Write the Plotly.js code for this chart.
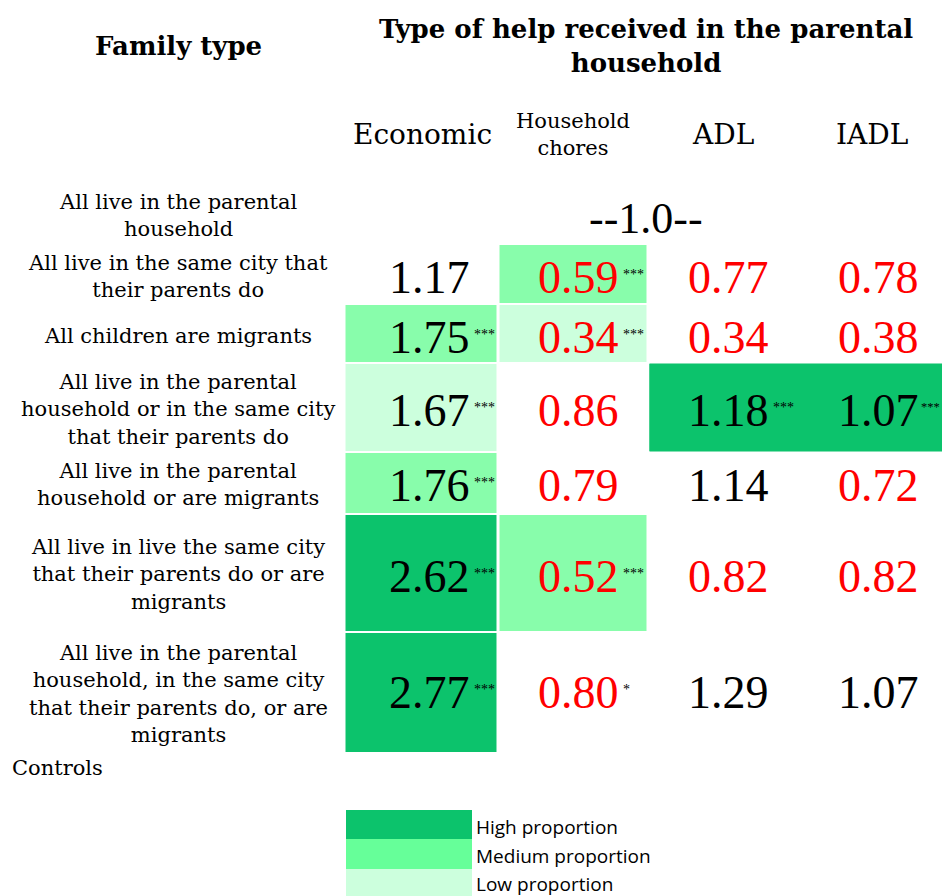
<!DOCTYPE html>
<html>
<head>
<meta charset="utf-8">
<script src="https://cdn.plot.ly/plotly-3.0.1.min.js"></script>
<style>html,body{margin:0;padding:0;background:#fff;}#chart{width:942px;height:896px;}</style>
</head>
<body>
<div id="chart"></div>
<script>
// ---------------- DATA ----------------
const familyTypes = [
  "All live in the parental<br>household",
  "All live in the same city that<br>their parents do",
  "All children are migrants",
  "All live in the parental<br>household or in the same city<br>that their parents do",
  "All live in the parental<br>household or are migrants",
  "All live in live the same city<br>that their parents do or are<br>migrants",
  "All live in the parental<br>household, in the same city<br>that their parents do, or are<br>migrants"
];
const helpTypes = ["Economic", "Household<br>chores", "ADL", "IADL"];
const referenceLabel = "--1.0--";           // reference category (row 0)

// odds ratios (row 0 is the reference category)
const economic = [null, 1.17, 1.75, 1.67, 1.76, 2.62, 2.77];
const chores   = [null, 0.59, 0.34, 0.86, 0.79, 0.52, 0.80];
const adl      = [null, 0.77, 0.34, 1.18, 1.14, 0.82, 1.29];
const iadl     = [null, 0.78, 0.38, 1.07, 0.72, 0.82, 1.07];

// significance stars
const economicSig = ["", "", "***", "***", "***", "***", "***"];
const choresSig   = ["", "***", "***", "", "", "***", "*"];
const adlSig      = ["", "", "", "***", "", "", ""];
const iadlSig     = ["", "", "", "***", "", "", ""];

// shading: 0 none, 1 low, 2 medium, 3 high proportion
const economicShade = [0, 0, 2, 1, 2, 3, 3];
const choresShade   = [0, 2, 1, 0, 0, 2, 0];
const adlShade      = [0, 0, 0, 3, 0, 0, 0];
const iadlShade     = [0, 0, 0, 3, 0, 0, 0];
// merged cells: [row, firstCol, lastCol]
const mergedCells = [[3, 2, 3]];

const legendLabels = ["High proportion", "Medium proportion", "Low proportion"];
const legendLevels = [3, 2, 1];
const controlsLabel = "Controls";

// ---------------- LAYOUT / STYLE ----------------
const W = 942, H = 896;
const colEdges = [344.5, 498.5, 648, 796, 943.5];
const rowEdges = [190, 244, 304, 362.5, 452, 513.5, 631.5, 752.5];
const numX = [429, 578, 728, 878];
const numY = [218, 277, 337, 410, 485, 576, 692];
const labelY = [215.5, 276, 336, 409.5, 484.5, 574.5, 694];
const starDx = [43, 43, 43, 41], starDy = -3;
const legendXEdges = [346, 472];
const legendYEdges = [810, 838.5, 868.5, 897];
const legendTextY = [827, 856, 884];

const HIGH = "#0cc36c", MED = "#88fdab", LOW = "#ccffdd";
const LEG_MED = "#66ff99";
const SERIF = "DejaVu Serif, serif";
const NUMFONT = "Liberation Serif, Times New Roman, serif";

const cols = [economic, chores, adl, iadl];
const sigs = [economicSig, choresSig, adlSig, iadlSig];
const shades = [economicShade, choresShade, adlShade, iadlShade];

const z = familyTypes.map((_, r) => shades.map(s => s[r] === 0 ? null : s[r]));
const traces = [{
  type: "heatmap", x: colEdges, y: rowEdges, z: z,
  zmin: 0.5, zmax: 3.5, xgap: 3, ygap: 2,
  colorscale: [[0, LOW], [1/3, LOW], [1/3, MED], [2/3, MED], [2/3, HIGH], [1, HIGH]],
  showscale: false, hoverinfo: "skip"
}];
mergedCells.forEach(([r, c0, c1]) => {
  traces.push({
    type: "heatmap", x: [colEdges[c0] + 1.5, colEdges[c1 + 1] - 1.5], y: [rowEdges[r] + 1, rowEdges[r + 1] - 1],
    z: [[shades[c0][r]]], zmin: 0.5, zmax: 3.5,
    colorscale: [[0, LOW], [1/3, LOW], [1/3, MED], [2/3, MED], [2/3, HIGH], [1, HIGH]],
    showscale: false, hoverinfo: "skip"
  });
});
// legend swatches
traces.push({
  type: "heatmap", x: legendXEdges, y: legendYEdges, z: legendLevels.map(v => [v]),
  zmin: 0.5, zmax: 3.5,
  colorscale: [[0, LOW], [1/3, LOW], [1/3, LEG_MED], [2/3, LEG_MED], [2/3, HIGH], [1, HIGH]],
  showscale: false, hoverinfo: "skip"
});

const ann = [];
const A = (o) => ann.push(Object.assign({xref: "x", yref: "y", showarrow: false, xanchor: "center", yanchor: "middle"}, o));

A({x: 646, y: 45.5, text: "<b>Type of help received in the parental<br>household</b>", font: {family: SERIF, size: 26, color: "#000"}});
A({x: 178, y: 46, text: "<b>Family type</b>", font: {family: SERIF, size: 26, color: "#000"}});
const headX = [422, 573, 723, 872];
const headSize = [28, 21, 28, 28];
helpTypes.forEach((h, i) => A({x: headX[i], y: 134.5, text: h, font: {family: SERIF, size: headSize[i], color: "#000"}}));

familyTypes.forEach((f, r) => A({x: 178, y: labelY[r], text: f, font: {family: SERIF, size: 21, color: "#000"}}));
A({x: 10, y: 768, xanchor: "left", text: controlsLabel, font: {family: SERIF, size: 21, color: "#000"}});

A({x: 646, y: numY[0], text: referenceLabel, font: {family: NUMFONT, size: 44, color: "#000"}});
cols.forEach((col, c) => {
  col.forEach((v, r) => {
    if (v === null) return;
    A({x: numX[c], y: numY[r], text: v.toFixed(2), font: {family: NUMFONT, size: 46, color: v < 1 ? "#ff0000" : "#000"}});
    if (sigs[c][r]) A({x: numX[c] + starDx[c], y: numY[r] + starDy, xanchor: "left", text: sigs[c][r], font: {family: NUMFONT, size: c === 3 ? 12.5 : 14, color: "#000"}});
  });
});
legendLabels.forEach((t, i) => A({x: 474, y: legendTextY[i], xanchor: "left", text: t, font: {family: "Open Sans, sans-serif", size: 19, color: "#000"}}));

Plotly.newPlot("chart", traces, {
  width: W, height: H, margin: {l: 0, r: 0, t: 0, b: 0},
  paper_bgcolor: "#fff", plot_bgcolor: "#fff",
  xaxis: {range: [0, W], visible: false, fixedrange: true},
  yaxis: {range: [H, 0], visible: false, fixedrange: true},
  showlegend: false, annotations: ann
}, {staticPlot: true});
</script>
</body>
</html>
